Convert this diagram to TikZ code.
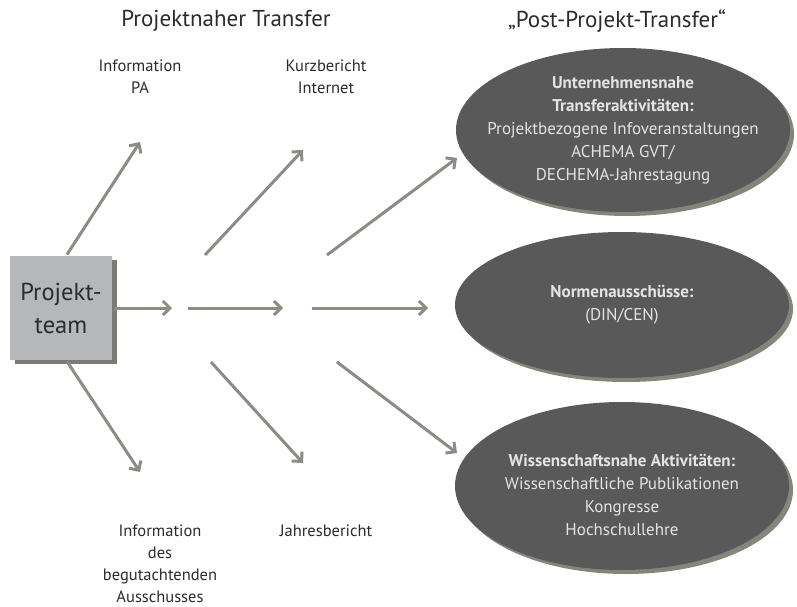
\documentclass[tikz,border=0pt]{standalone}
\usepackage{fontspec}
\setmainfont{PT Sans}
\usetikzlibrary{arrows.meta, positioning, shapes.geometric, shadows}
\definecolor{carrow}{HTML}{8B8C84}
\definecolor{cbox}{HTML}{B5B7BA}
\definecolor{cboxshade}{HTML}{7B7B75}
\definecolor{coval}{HTML}{595959}
\definecolor{covalshade}{HTML}{85857A}
\definecolor{ctext}{HTML}{2B2B2B}
\definecolor{covaltext}{HTML}{E4E4E4}
\tikzset{
  every picture/.style={line width=3pt},
  arrow/.style={-{Straight Barb[length=7pt, width=14pt]}, draw=carrow, line width=3pt},
  teambox/.style={rectangle, fill=cbox, minimum width=102pt, minimum height=104pt, align=center,
    text=ctext, font=\fontsize{24.5}{33}\selectfont,
    drop shadow={shadow xshift=5pt, shadow yshift=-4pt, fill=cboxshade, opacity=1}},
  oval/.style={ellipse, fill=coval, minimum width=334pt, minimum height=#1, inner sep=0pt,
    drop shadow={shadow xshift=4pt, shadow yshift=-4pt, fill=covalshade, opacity=1}},
  oval/.default=164pt,
  ovaltext/.style={text=covaltext, align=center, font=\fontsize{17}{23}\selectfont},
  title/.style={text=ctext, font=\fontsize{23}{27}\selectfont},
  lbl/.style={text=ctext, align=center, font=\fontsize{16.5}{22}\selectfont},
}

\begin{document}
\begin{tikzpicture}[x=1pt, y=-1pt]
  \useasboundingbox (0,0) rectangle (797,607);
  % headings
  \node[title] (ttl1) at (226,21) {Projektnaher Transfer};
  \node[title] (ttl2) at (617,21) {„Post-Projekt-Transfer“};
  % start box
  \node[teambox] (team) at (61,308) {Projekt-\\team};
  % post-project transfer
  \node[oval=164pt, label={[ovaltext]center:{\textbf{Unternehmensnahe}\\\textbf{Transferaktivitäten:}\\Projektbezogene Infoveranstaltungen\\ACHEMA GVT/\\DECHEMA-Jahrestagung}}] (unt) at (623,130) {};
  \node[oval=146pt, label={[ovaltext]center:{\textbf{Normenausschüsse:}\\(DIN/CEN)}}] (norm) at (622,305) {};
  \node[oval=168pt, label={[ovaltext, yshift=-9pt]center:{\textbf{Wissenschaftsnahe Aktivitäten:}\\Wissenschaftliche Publikationen\\Kongresse\\Hochschullehre}}] (wiss) at (622,486) {};
  % project-near labels
  \node[lbl] (pa) at (140,77) {Information\\PA};
  \node[lbl] (kurz) at (326,77) {Kurzbericht\\Internet};
  \node[lbl, anchor=north] (aus) at (160,520) {Information\\des\\begutachtenden\\Ausschusses};
  \node[lbl, anchor=north] (jahr) at (326,520) {Jahresbericht};
  % arrow ends
  \coordinate (pa1) at (140,142);
  \coordinate (m1) at (172,308);
  \coordinate (aus1) at (140,472);
  \coordinate (k0) at (205,255);  \coordinate (k1) at (303,150);
  \coordinate (m2a) at (188,308); \coordinate (m2b) at (283,308);
  \coordinate (j0) at (211,362);  \coordinate (j1) at (303,463);
  \coordinate (u0) at (327,255);  \coordinate (u1) at (457,158);
  \coordinate (n0) at (312,308);  \coordinate (n1) at (428,308);
  \coordinate (w0) at (337,362);  \coordinate (w1) at (457,453);
  % arrows
  \draw[arrow] ([xshift=6pt]team.north) -- (pa1);
  \draw[arrow] (team.east) -- (m1);
  \draw[arrow] ([xshift=6pt]team.south) -- (aus1);
  \foreach \a/\b in {k0/k1, m2a/m2b, j0/j1, u0/u1, n0/n1, w0/w1}
    \draw[arrow] (\a) -- (\b);
\end{tikzpicture}
\end{document}
